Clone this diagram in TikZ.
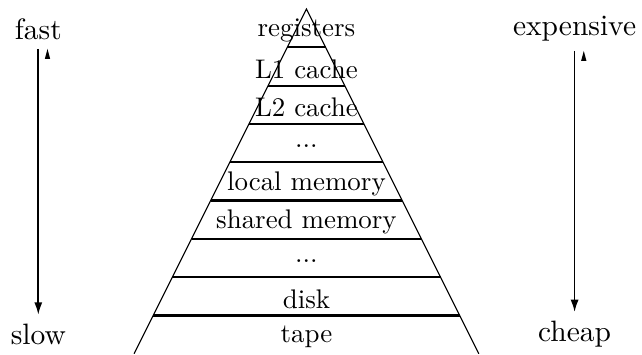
\documentclass[tikz,border=0pt]{standalone}
\usetikzlibrary{arrows.meta}

\tikzset{
  layer/.style={thick},
  level/.style={yshift=-0.035cm},
  side/.style={font=\fontsize{10.95}{13}\selectfont},
  scalearrow/.style={semithick,-{Latex[length=4.6pt,width=3pt]}}
}

\begin{document}
\begin{tikzpicture}
        \useasboundingbox (-4.0,-4.504) rectangle (4.38,0.1175);
        % pyramid
        \draw (-2.25,-4.5) -- (0,0) -- (2.25,-4.5);
        \draw[layer] (-0.25,-0.5) -- (0.25,-0.5);
        \draw[layer] (-0.5,-1) -- (0.5,-1);
        \draw[layer] (-0.75,-1.5) -- (0.75,-1.5);
        \draw[layer] (-1,-2) -- (1,-2);
        \draw[layer] (-1.25,-2.5) -- (1.25,-2.5);
        \draw[layer] (-1.5,-3) -- (1.5,-3);
        \draw[layer] (-1.75,-3.5) -- (1.75,-3.5);
        \draw[layer] (-2,-4) -- (2,-4);
        \node[level] (reg) at (0,-0.25) {registers};
        \node[level] (lone) at (0,-0.75) {L1 cache};
        \node[level] (ltwo) at (0,-1.25) {L2 cache};
        \node[level] (dotsa) at (0,-1.75) {...};
        \node[level] (local) at (0,-2.25) {local memory};
        \node[level] (shared) at (0,-2.75) {shared memory};
        \node[level] (dotsb) at (0,-3.25) {...};
        \node[level] (disk) at (0,-3.75) {disk};
        \node[level] (tape) at (0,-4.25) {tape};
        % speed
        \node[side] (fast) at (-3.5,-0.26) {fast};
        \node[side] (slow) at (-3.5,-4.25) {slow};
        \draw[scalearrow] (fast) -- (slow);
        \fill (fast.south) ++(0.12,0) -- ++(-0.035,-0.13) -- ++(0.07,0) -- cycle;
        % cost
        \node[side] (expensive) at (3.5,-0.26) {expensive};
        \node[side] (cheap) at (3.5,-4.25) {cheap};
        \draw[scalearrow] (expensive) -- (cheap);
        \fill (expensive.south) ++(0.12,0) -- ++(-0.035,-0.13) -- ++(0.07,0) -- cycle;
    \end{tikzpicture}
\end{document}
